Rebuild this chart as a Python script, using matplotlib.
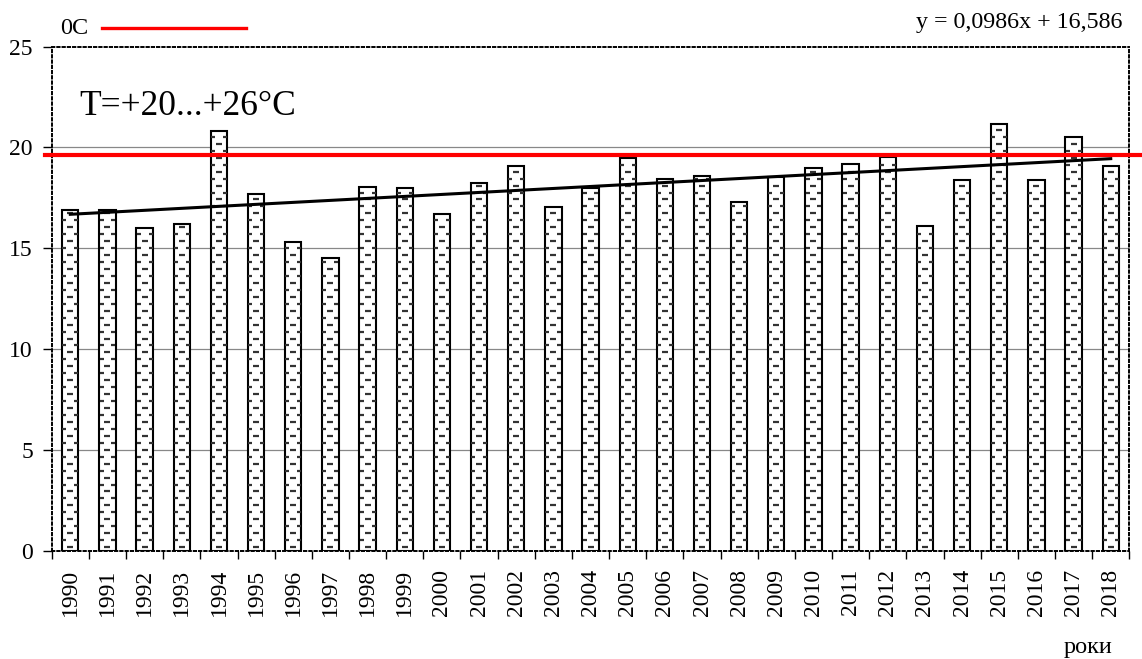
import numpy as np
import matplotlib.pyplot as plt

plt.rcParams['font.family'] = ['Liberation Serif', 'DejaVu Serif']

# Середня температура по роках
years = list(range(1990, 2019))
temps = [16.9, 16.9, 16.0, 16.2, 20.8, 17.7, 15.3, 14.5, 18.05, 18.0,
         16.7, 18.25, 19.1, 17.05, 18.0, 19.5, 18.45, 18.6, 17.3, 18.55,
         19.0, 19.2, 19.55, 16.1, 18.4, 21.15, 18.4, 20.5, 19.1]
trend_slope = 0.0986
trend_intercept = 16.586
zero_c = 19.65

x = np.arange(len(years))
bar_w = 0.44

fig = plt.figure(figsize=(11.42, 6.59), dpi=100)
ax = fig.add_axes([0.0453, 0.1646, 0.9436, 0.7645])

ax.bar(x, temps, width=bar_w, color='white', edgecolor='black', linewidth=1.5, zorder=2)

# штрихування: короткі риски всередині стовпців
cx, cy, ex, ey = [], [], [], []
step = 0.345
for i, v in enumerate(temps):
    k = 0
    y = 0.17
    while y < v - 0.12:
        if k % 2 == 0:
            cx.append(i)
            cy.append(y)
        else:
            ex += [i - 0.16, i + 0.16]
            ey += [y, y]
        k += 1
        y += step
ax.plot(cx, cy, ls='none', marker='_', ms=4.5, mew=1.6, color='#333333', zorder=3)
ax.plot(ex, ey, ls='none', marker='_', ms=3.5, mew=1.6, color='#333333', zorder=3)

# лінія тренду
tx = np.array([1, len(years)])
ax.plot(tx - 1, trend_slope * tx + trend_intercept, color='black', lw=2.2, zorder=4)

# лінія 0C
ax.axhline(zero_c, xmin=-0.0062, xmax=1.011, color='#ff0000', lw=3, clip_on=False, zorder=5)

ax.set_xlim(-0.5, len(years) - 0.5)
ax.set_ylim(0, 25)
ax.set_yticks([0, 5, 10, 15, 20, 25])
for g in [5, 10, 15, 20]:
    ax.axhline(g, color='#888888', lw=0.9, zorder=1)

ax.set_xticks(x)
ax.set_xticklabels([str(yy) for yy in years], rotation=90, fontsize=17)
ax.set_xticks(np.arange(len(years) + 1) - 0.5, minor=True)
ax.tick_params(axis='x', which='major', length=0, pad=13)
ax.tick_params(axis='x', which='minor', length=6, width=1, direction='out')
ax.tick_params(axis='y', length=6.5, width=1, pad=7, labelsize=17)

for s in ax.spines.values():
    s.set_linestyle((0, (1.2, 1.5)))
    s.set_linewidth(1.4)

fig.text(0.0525, 0.9485, '0C', fontsize=17.5, va='baseline')
fig.add_artist(plt.Line2D([0.089, 0.2151], [0.958, 0.958], color='#ff0000', lw=2.4))
fig.text(0.983, 0.957, 'y = 0,0986x + 16,586', fontsize=17.3, ha='right', va='baseline')
ax.text(0.0253, 0.8644, 'T=+20...+26°C', transform=ax.transAxes, fontsize=25.5, va='baseline')
fig.text(0.974, 0.009, 'роки', fontsize=17.5, ha='right', va='baseline')

plt.savefig('out.png', dpi=100)
